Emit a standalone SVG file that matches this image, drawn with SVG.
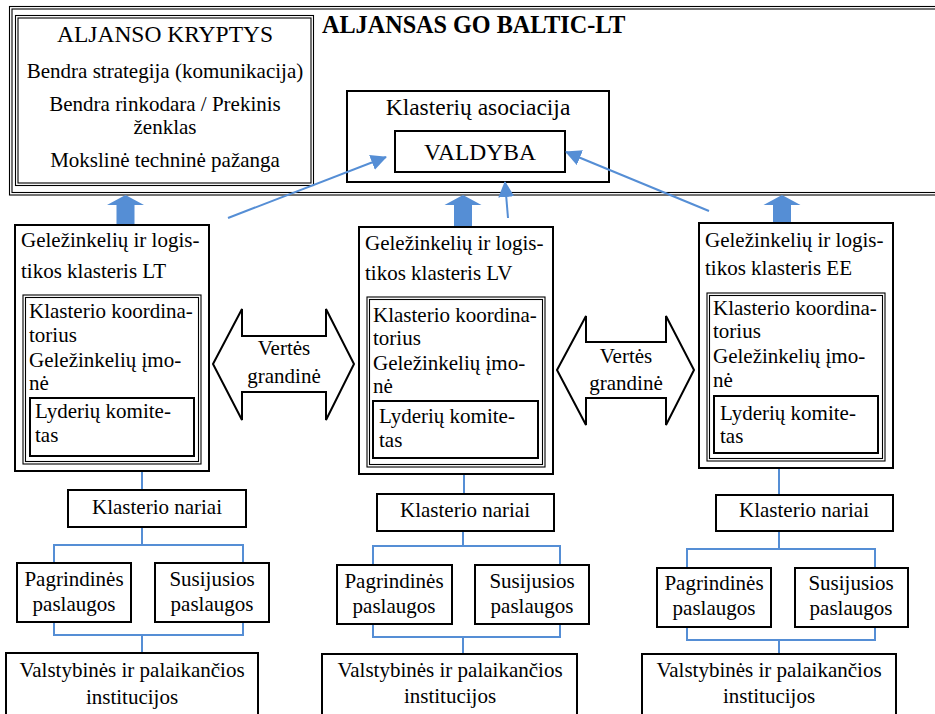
<svg xmlns="http://www.w3.org/2000/svg" width="935" height="714" viewBox="0 0 935 714" font-family="'Liberation Serif', 'Times New Roman', Times, serif">
<style>
text{font-family:'Liberation Serif','Times New Roman',Times,serif;font-size:21px;fill:#000}
.big{font-size:23.5px}
.title{font-size:24.2px;font-weight:bold}
.c{text-anchor:middle}
.box{fill:#fff;stroke:#000;stroke-width:2}
.thin{fill:none;stroke:#000;stroke-width:1.1}
.blue{fill:none;stroke:#558ED5;stroke-width:2}
.barrow{fill:#558ED5}
.varrow{fill:#fff;stroke:#000;stroke-width:2;stroke-linejoin:miter}
</style>
<defs>
<path id="blockUp" d="M0,0 L18.5,10 L9,10 L9,31 L-9,31 L-9,10 L-18.5,10 Z"/>
<marker id="ah" markerUnits="userSpaceOnUse" markerWidth="16" markerHeight="16" viewBox="0 0 16 16" refX="15" refY="8" orient="auto">
<path d="M0,0 L16,8 L0,16 Z" fill="#558ED5"/>
</marker>
</defs>
<rect width="935" height="714" fill="#fff"/>

<g id="frame">
<rect class="thin" x="9.5" y="6.5" width="940" height="188.5"/>
<rect class="thin" x="12" y="9" width="940" height="183.5"/>
<text class="title" x="322" y="33">ALJANSAS GO BALTIC-LT</text>
</g>

<g id="aljanso-kryptys">
<rect class="thin" x="15.5" y="15.5" width="298" height="170"/>
<rect class="thin" x="18" y="18" width="293" height="165"/>
<text class="big c" x="165" y="42">ALJANSO KRYPTYS</text>
<text class="c" x="165" y="78">Bendra strategija (komunikacija)</text>
<text class="c" x="165" y="111">Bendra rinkodara / Prekinis</text>
<text class="c" x="165" y="134">ženklas</text>
<text class="c" x="165" y="167">Mokslinė techninė pažanga</text>
</g>

<g id="asociacija">
<rect class="box" x="347" y="91" width="262" height="91"/>
<text class="big c" x="478" y="115">Klasterių asociacija</text>
<g id="valdyba">
<rect class="box" x="395" y="131" width="170" height="41"/>
<text class="big c" x="480" y="160">VALDYBA</text>
</g>
</g>

<g id="connectors">
<use href="#blockUp" class="barrow" x="125.5" y="195"/>
<use href="#blockUp" class="barrow" x="463" y="195"/>
<use href="#blockUp" class="barrow" x="782" y="195"/>
<line class="blue" x1="228" y1="218" x2="386" y2="157" marker-end="url(#ah)"/>
<line class="blue" x1="508" y1="218" x2="505" y2="182" marker-end="url(#ah)"/>
<line class="blue" x1="709" y1="211" x2="566" y2="152" marker-end="url(#ah)"/>
<path class="blue" d="M142,471 V490 M142,527 V545 M54,563 V545 H243 V563 M54,622 V635 H243 V622 M142,635 V653"/>
<path class="blue" d="M464,474 V494 M463,531 V546 M373,565 V546 H560 V565 M373,624 V637 H560 V624 M463,637 V654"/>
<path class="blue" d="M779,468 V495 M779,531 V549 M687,568 V549 H875 V568 M687,627 V640 H875 V627 M779,640 V654"/>
</g>

<g id="cluster-lt">
<rect class="box" x="15" y="225" width="194" height="246"/>
<text x="21" y="247">Geležinkelių ir logis-</text>
<text x="21" y="278">tikos klasteris LT</text>
<rect class="thin" x="23" y="295" width="178" height="169"/>
<rect class="thin" x="25.5" y="297.5" width="173" height="164"/>
<text x="29" y="318">Klasterio koordina-</text>
<text x="29" y="342">torius</text>
<text x="29" y="367">Geležinkelių įmo-</text>
<text x="29" y="390">nė</text>
<rect class="box" x="30" y="398" width="164" height="58"/>
<text x="35" y="418">Lyderių komite-</text>
<text x="35" y="442">tas</text>
</g>

<g id="cluster-lv">
<rect class="box" x="359" y="227" width="194" height="247"/>
<text x="365" y="250">Geležinkelių ir logis-</text>
<text x="365" y="280">tikos klasteris LV</text>
<rect class="thin" x="367" y="297" width="178" height="170"/>
<rect class="thin" x="369.5" y="299.5" width="173" height="165"/>
<text x="373" y="322">Klasterio koordina-</text>
<text x="373" y="345">torius</text>
<text x="373" y="370">Geležinkelių įmo-</text>
<text x="373" y="393">nė</text>
<rect class="box" x="373" y="401" width="165" height="57"/>
<text x="379" y="423">Lyderių komite-</text>
<text x="379" y="447">tas</text>
</g>

<g id="cluster-ee">
<rect class="box" x="699" y="223" width="194" height="245"/>
<text x="705" y="247">Geležinkelių ir logis-</text>
<text x="705" y="275">tikos klasteris EE</text>
<rect class="thin" x="707" y="293" width="178" height="168"/>
<rect class="thin" x="709.5" y="295.5" width="173" height="163"/>
<text x="713" y="315">Klasterio koordina-</text>
<text x="713" y="338">torius</text>
<text x="713" y="363">Geležinkelių įmo-</text>
<text x="713" y="387">nė</text>
<rect class="box" x="714" y="396" width="164" height="57"/>
<text x="720" y="420">Lyderių komite-</text>
<text x="720" y="443">tas</text>
</g>

<g id="verte-1">
<polygon class="varrow" points="213,364 242,309 242,336 326,336 326,309 354,364 326,420 326,392 242,392 242,420"/>
<text class="c" x="284" y="355">Vertės</text>
<text class="c" x="284" y="383">grandinė</text>
</g>
<g id="verte-2">
<polygon class="varrow" points="557,370 586,316 586,342 666,342 666,316 694,370 666,425 666,398 586,398 586,425"/>
<text class="c" x="626" y="363">Vertės</text>
<text class="c" x="626" y="390">grandinė</text>
</g>

<g id="nariai-lt">
<rect class="box" x="68" y="490" width="178" height="37"/>
<text class="c" x="157" y="514">Klasterio nariai</text>
</g>
<g id="pagr-lt">
<rect class="box" x="17" y="563" width="114" height="59"/>
<text class="c" x="74" y="586">Pagrindinės</text>
<text class="c" x="74" y="611">paslaugos</text>
</g>
<g id="susij-lt">
<rect class="box" x="155" y="563" width="114" height="59"/>
<text class="c" x="212" y="586">Susijusios</text>
<text class="c" x="212" y="611">paslaugos</text>
</g>
<g id="valst-lt">
<rect class="box" x="6" y="653" width="252" height="70"/>
<text class="c" x="132" y="677">Valstybinės ir palaikančios</text>
<text class="c" x="132" y="704">institucijos</text>
</g>

<g id="nariai-lv">
<rect class="box" x="377" y="494" width="177" height="37"/>
<text class="c" x="465" y="517">Klasterio nariai</text>
</g>
<g id="pagr-lv">
<rect class="box" x="337" y="565" width="115" height="59"/>
<text class="c" x="394" y="588">Pagrindinės</text>
<text class="c" x="394" y="613">paslaugos</text>
</g>
<g id="susij-lv">
<rect class="box" x="475" y="565" width="114" height="59"/>
<text class="c" x="532" y="588">Susijusios</text>
<text class="c" x="532" y="613">paslaugos</text>
</g>
<g id="valst-lv">
<rect class="box" x="322" y="654" width="255" height="70"/>
<text class="c" x="450" y="677">Valstybinės ir palaikančios</text>
<text class="c" x="450" y="703">institucijos</text>
</g>

<g id="nariai-ee">
<rect class="box" x="716" y="495" width="177" height="36"/>
<text class="c" x="804" y="517">Klasterio nariai</text>
</g>
<g id="pagr-ee">
<rect class="box" x="657" y="568" width="114" height="59"/>
<text class="c" x="714" y="590">Pagrindinės</text>
<text class="c" x="714" y="615">paslaugos</text>
</g>
<g id="susij-ee">
<rect class="box" x="795" y="568" width="113" height="59"/>
<text class="c" x="851" y="590">Susijusios</text>
<text class="c" x="851" y="615">paslaugos</text>
</g>
<g id="valst-ee">
<rect class="box" x="642" y="654" width="254" height="70"/>
<text class="c" x="769" y="677">Valstybinės ir palaikančios</text>
<text class="c" x="769" y="703">institucijos</text>
</g>
</svg>
